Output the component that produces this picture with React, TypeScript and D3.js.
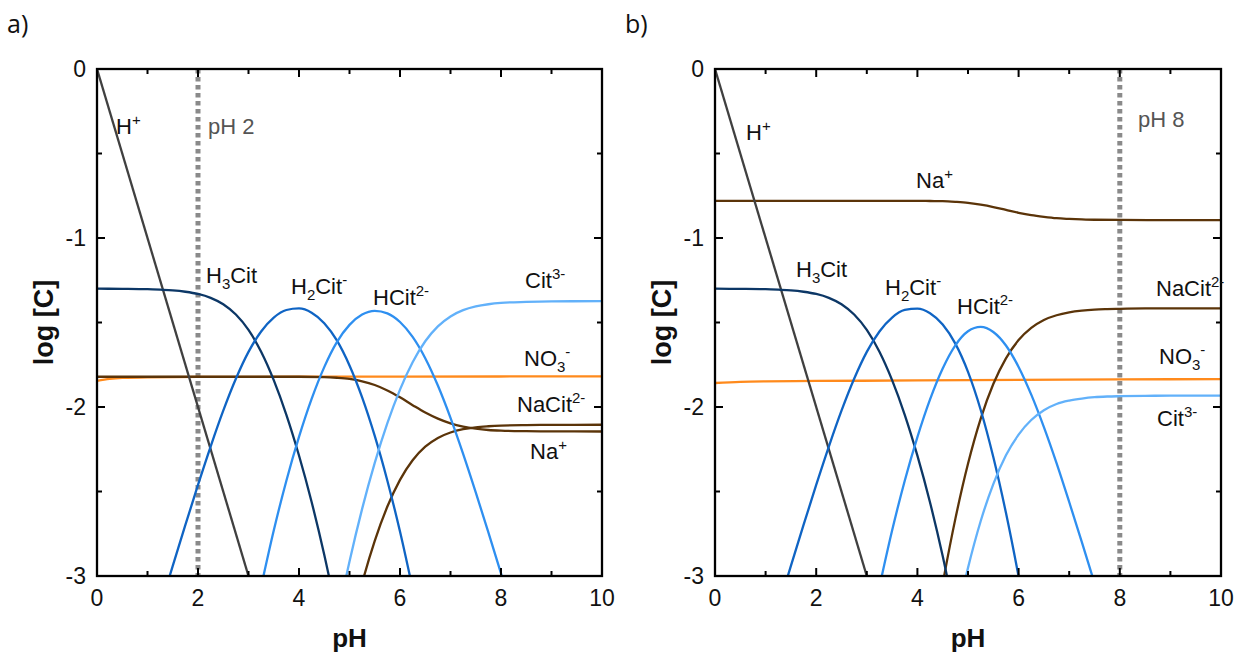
import React from 'react';
import * as d3 from 'd3';

type Pt = [number, number];

// ---------- data (pH, log C) ----------
const xMajorTicks = [0, 2, 4, 6, 8, 10];
const xMinorTicks = [1, 3, 5, 7, 9];
const yMajorTicks = [0, -1, -2, -3];
const yMinorTicks = [-0.5, -1.5, -2.5];

const hPlus: Pt[] = [[0, 0], [3, -3]];

const aH3Cit: Pt[] = [[0, -1.3], [0.5, -1.301], [1, -1.303], [1.25, -1.306], [1.5, -1.31], [1.75, -1.318], [2, -1.331], [2.25, -1.354], [2.5, -1.392], [2.75, -1.453], [3, -1.544], [3.25, -1.673], [3.5, -1.841], [3.75, -2.046], [4, -2.287], [4.25, -2.562], [4.5, -2.874], [4.75, -3.226]];
const aH2Cit: Pt[] = [[1.25, -3.186], [1.5, -2.94], [1.75, -2.698], [2, -2.461], [2.25, -2.234], [2.5, -2.022], [2.75, -1.833], [3, -1.674], [3.25, -1.553], [3.5, -1.471], [3.75, -1.426], [4, -1.417], [4.25, -1.442], [4.5, -1.504], [4.75, -1.606], [5, -1.754], [5.25, -1.943], [5.5, -2.171], [5.75, -2.436], [6, -2.737], [6.25, -3.075]];
const aHCit: Pt[] = [[3.25, -3.063], [3.5, -2.731], [3.75, -2.436], [4, -2.177], [4.25, -1.952], [4.5, -1.764], [4.75, -1.616], [5, -1.514], [5.25, -1.453], [5.5, -1.431], [5.75, -1.446], [6, -1.497], [6.25, -1.585], [6.5, -1.711], [6.75, -1.873], [7, -2.064], [7.25, -2.277], [7.5, -2.505], [7.75, -2.742], [8, -2.984], [8.25, -3.23]];
const aCit: Pt[] = [[4.75, -3.266], [5, -2.914], [5.25, -2.603], [5.5, -2.331], [5.75, -2.096], [6, -1.897], [6.25, -1.735], [6.5, -1.611], [6.75, -1.523], [7, -1.464], [7.25, -1.427], [7.5, -1.405], [7.75, -1.392], [8, -1.384], [8.5, -1.378], [9, -1.375], [10, -1.374]];
const aNaCit: Pt[] = [[5, -3.34], [5.25, -3.042], [5.5, -2.792], [5.75, -2.589], [6, -2.431], [6.25, -2.315], [6.5, -2.235], [6.75, -2.183], [7, -2.151], [7.25, -2.131], [7.5, -2.12], [7.75, -2.114], [8, -2.11], [8.5, -2.107], [9, -2.106], [10, -2.105]];
const aNa: Pt[] = [[0, -1.821], [2, -1.821], [4, -1.821], [4.5, -1.823], [4.75, -1.827], [5, -1.834], [5.25, -1.848], [5.5, -1.87], [5.75, -1.902], [6, -1.943], [6.25, -1.989], [6.5, -2.033], [6.75, -2.069], [7, -2.097], [7.25, -2.116], [7.5, -2.128], [7.75, -2.136], [8, -2.14], [8.5, -2.143], [9, -2.144], [10, -2.145]];
const aNO3: Pt[] = [[0, -1.845], [0.25, -1.834], [0.5, -1.828], [1, -1.824], [2, -1.822], [4, -1.821], [6, -1.82], [10, -1.819]];

const bH3Cit: Pt[] = [[0, -1.3], [0.5, -1.301], [1, -1.303], [1.25, -1.306], [1.5, -1.31], [1.75, -1.318], [2, -1.331], [2.25, -1.354], [2.5, -1.392], [2.75, -1.453], [3, -1.544], [3.25, -1.673], [3.5, -1.841], [3.75, -2.046], [4, -2.288], [4.25, -2.565], [4.5, -2.882], [4.75, -3.245]];
const bH2Cit: Pt[] = [[1.25, -3.186], [1.5, -2.94], [1.75, -2.698], [2, -2.461], [2.25, -2.234], [2.5, -2.022], [2.75, -1.833], [3, -1.674], [3.25, -1.553], [3.5, -1.471], [3.75, -1.426], [4, -1.418], [4.25, -1.445], [4.5, -1.512], [4.75, -1.625], [5, -1.792], [5.25, -2.016], [5.5, -2.296], [5.75, -2.626], [6, -3.003], [6.25, -3.417]];
const bHCit: Pt[] = [[3.25, -3.063], [3.5, -2.731], [3.75, -2.436], [4, -2.178], [4.25, -1.955], [4.5, -1.772], [4.75, -1.635], [5, -1.552], [5.25, -1.526], [5.5, -1.556], [5.75, -1.636], [6, -1.763], [6.25, -1.927], [6.5, -2.119], [6.75, -2.332], [7, -2.562], [7.25, -2.8], [7.5, -3.042]];
const bCit: Pt[] = [[4.75, -3.285], [5, -2.952], [5.25, -2.676], [5.5, -2.456], [5.75, -2.286], [6, -2.163], [6.25, -2.077], [6.5, -2.019], [6.75, -1.982], [7, -1.962], [7.25, -1.95], [7.5, -1.942], [7.75, -1.938], [8, -1.936], [8.5, -1.934], [9, -1.933], [10, -1.933]];
const bNaCit: Pt[] = [[4.25, -3.477], [4.5, -3.046], [4.75, -2.662], [5, -2.336], [5.25, -2.07], [5.5, -1.864], [5.75, -1.712], [6, -1.604], [6.25, -1.532], [6.5, -1.485], [6.75, -1.457], [7, -1.44], [7.25, -1.43], [7.5, -1.424], [7.75, -1.421], [8, -1.419], [8.5, -1.417], [9, -1.417], [10, -1.417]];
const bNa: Pt[] = [[0, -0.78], [2, -0.78], [4, -0.78], [4.25, -0.781], [4.5, -0.782], [4.75, -0.786], [5, -0.792], [5.25, -0.803], [5.5, -0.817], [5.75, -0.834], [6, -0.851], [6.25, -0.865], [6.5, -0.875], [6.75, -0.883], [7, -0.887], [7.25, -0.89], [7.5, -0.892], [8, -0.893], [9, -0.894], [10, -0.894]];
const bNO3: Pt[] = [[0, -1.858], [0.5, -1.851], [1, -1.848], [2, -1.846], [4, -1.843], [6, -1.84], [8, -1.837], [10, -1.835]];

const markerPH = { a: 2, b: 8 };

// ---------- styles ----------
const C = {
  h: '#404040',
  h3cit: '#0c3766',
  h2cit: '#0f64c4',
  hcit: '#2e8ff0',
  cit: '#62b1fa',
  no3: '#ff8a1c',
  na: '#5b3409',
  dash: '#8a8a8a',
};

type Part = { t: string; s?: 'sub' | 'sup' };
const FONT = 'Liberation Sans, Arial, Helvetica, sans-serif';

function Label({ x, y, parts, fill = '#111', size = 22 }: { x: number; y: number; parts: Part[]; fill?: string; size?: number }) {
  let shift = 0;
  return (
    <text x={x} y={y} style={{ fontFamily: FONT }} fontSize={size} fill={fill}>
      {parts.map((p, i) => {
        const target = p.s === 'sup' ? -9 : p.s === 'sub' ? 6 : 0;
        const dy = target - shift;
        shift = target;
        return (
          <tspan key={i} dy={dy} fontSize={p.s ? 15 : size}>
            {p.t}
          </tspan>
        );
      })}
    </text>
  );
}

type Series = { data: Pt[]; color: string };
type LabelDef = { x: number; y: number; parts: Part[]; fill?: string };

function Panel({ id, left, right, top, bottom, series, marker, labels, letter }: {
  id: string; left: number; right: number; top: number; bottom: number; series: Series[]; marker: number; labels: LabelDef[]; letter: string;
}) {
  const x = d3.scaleLinear().domain([0, 10]).range([left, right]);
  const y = d3.scaleLinear().domain([-3, 0]).range([bottom, top]);
  const line = d3.line<Pt>().x((d) => x(d[0])).y((d) => y(d[1])).curve(d3.curveMonotoneX);
  const major = 8, minor = 5;
  return (
    <g>
      <defs>
        <clipPath id={`clip-${id}`}>
          <rect x={left} y={top} width={right - left} height={bottom - top} />
        </clipPath>
      </defs>
      <text x={left - 90} y={33} style={{ fontFamily: 'Open Sans, sans-serif' }} fontSize={25} fill="#111">{letter}</text>
      <g clipPath={`url(#clip-${id})`}>
        <line x1={x(marker)} x2={x(marker)} y1={top} y2={bottom} stroke={C.dash} strokeWidth={5} strokeDasharray="4.5 3.5" />
        {series.map((s, i) => (
          <path key={i} d={line(s.data) || ''} fill="none" stroke={s.color} strokeWidth={2.3} />
        ))}
      </g>
      <rect x={left} y={top} width={right - left} height={bottom - top} fill="none" stroke="#000" strokeWidth={2.3} />
      {xMajorTicks.map((t) => (
        <g key={'xM' + t}>
          <line x1={x(t)} x2={x(t)} y1={bottom} y2={bottom - major} stroke="#000" strokeWidth={2} />
          <line x1={x(t)} x2={x(t)} y1={top} y2={top + major} stroke="#000" strokeWidth={2} />
          <text x={x(t)} y={bottom + 30} textAnchor="middle" style={{ fontFamily: FONT }} fontSize={23} fill="#111">{t}</text>
        </g>
      ))}
      {xMinorTicks.map((t) => (
        <g key={'xm' + t}>
          <line x1={x(t)} x2={x(t)} y1={bottom} y2={bottom - minor} stroke="#000" strokeWidth={2} />
          <line x1={x(t)} x2={x(t)} y1={top} y2={top + minor} stroke="#000" strokeWidth={2} />
        </g>
      ))}
      {yMajorTicks.map((t) => (
        <g key={'yM' + t}>
          <line x1={left} x2={left + major} y1={y(t)} y2={y(t)} stroke="#000" strokeWidth={2} />
          <line x1={right} x2={right - major} y1={y(t)} y2={y(t)} stroke="#000" strokeWidth={2} />
          <text x={left - 11} y={y(t) + 8} textAnchor="end" style={{ fontFamily: FONT }} fontSize={23} fill="#111">{t}</text>
        </g>
      ))}
      {yMinorTicks.map((t) => (
        <g key={'ym' + t}>
          <line x1={left} x2={left + minor} y1={y(t)} y2={y(t)} stroke="#000" strokeWidth={2} />
          <line x1={right} x2={right - minor} y1={y(t)} y2={y(t)} stroke="#000" strokeWidth={2} />
        </g>
      ))}
      <text x={(left + right) / 2} y={647} textAnchor="middle" style={{ fontFamily: FONT }} fontWeight="bold" fontSize={26} fill="#111">pH</text>
      <text transform={`translate(${left - 53},${(top + bottom) / 2}) rotate(-90)`} textAnchor="middle" dy="0.35em" style={{ fontFamily: FONT }} fontWeight="bold" fontSize={27} fill="#111">log [C]</text>
      {labels.map((l, i) => (
        <Label key={i} x={l.x} y={l.y} parts={l.parts} fill={l.fill} />
      ))}
    </g>
  );
}

export default function App() {
  const seriesA: Series[] = [
    { data: aNO3, color: C.no3 },
    { data: aNa, color: C.na },
    { data: aNaCit, color: C.na },
    { data: hPlus, color: C.h },
    { data: aH3Cit, color: C.h3cit },
    { data: aH2Cit, color: C.h2cit },
    { data: aHCit, color: C.hcit },
    { data: aCit, color: C.cit },
  ];
  const seriesB: Series[] = [
    { data: bNO3, color: C.no3 },
    { data: bNa, color: C.na },
    { data: bNaCit, color: C.na },
    { data: hPlus, color: C.h },
    { data: bH3Cit, color: C.h3cit },
    { data: bH2Cit, color: C.h2cit },
    { data: bHCit, color: C.hcit },
    { data: bCit, color: C.cit },
  ];
  const labelsA: LabelDef[] = [
    { x: 116, y: 134, parts: [{ t: 'H' }, { t: '+', s: 'sup' }] },
    { x: 208, y: 134, parts: [{ t: 'pH 2' }], fill: '#555' },
    { x: 206, y: 283, parts: [{ t: 'H' }, { t: '3', s: 'sub' }, { t: 'Cit' }] },
    { x: 291, y: 294, parts: [{ t: 'H' }, { t: '2', s: 'sub' }, { t: 'Cit' }, { t: '-', s: 'sup' }] },
    { x: 373, y: 305, parts: [{ t: 'HCit' }, { t: '2-', s: 'sup' }] },
    { x: 525, y: 288, parts: [{ t: 'Cit' }, { t: '3-', s: 'sup' }] },
    { x: 524, y: 366, parts: [{ t: 'NO' }, { t: '3', s: 'sub' }, { t: '-', s: 'sup' }] },
    { x: 517, y: 412, parts: [{ t: 'NaCit' }, { t: '2-', s: 'sup' }] },
    { x: 530, y: 459, parts: [{ t: 'Na' }, { t: '+', s: 'sup' }] },
  ];
  const labelsB: LabelDef[] = [
    { x: 746, y: 140, parts: [{ t: 'H' }, { t: '+', s: 'sup' }] },
    { x: 1138, y: 127, parts: [{ t: 'pH 8' }], fill: '#555' },
    { x: 916, y: 188, parts: [{ t: 'Na' }, { t: '+', s: 'sup' }] },
    { x: 796, y: 277, parts: [{ t: 'H' }, { t: '3', s: 'sub' }, { t: 'Cit' }] },
    { x: 885, y: 295, parts: [{ t: 'H' }, { t: '2', s: 'sub' }, { t: 'Cit' }, { t: '-', s: 'sup' }] },
    { x: 957, y: 314, parts: [{ t: 'HCit' }, { t: '2-', s: 'sup' }] },
    { x: 1156, y: 296, parts: [{ t: 'NaCit' }, { t: '2-', s: 'sup' }] },
    { x: 1159, y: 364, parts: [{ t: 'NO' }, { t: '3', s: 'sub' }, { t: '-', s: 'sup' }] },
    { x: 1157, y: 426, parts: [{ t: 'Cit' }, { t: '3-', s: 'sup' }] },
  ];
  return (
    <div style={{ position: 'absolute', left: 0, top: 0 }}>
      <svg width={1236} height={655} style={{ display: 'block', background: '#fff' }}>
        <Panel id="a" letter="a)" left={97} right={602} top={69} bottom={576} series={seriesA} marker={markerPH.a} labels={labelsA} />
        <Panel id="b" letter="b)" left={715} right={1221} top={69} bottom={576} series={seriesB} marker={markerPH.b} labels={labelsB} />
      </svg>
    </div>
  );
}
